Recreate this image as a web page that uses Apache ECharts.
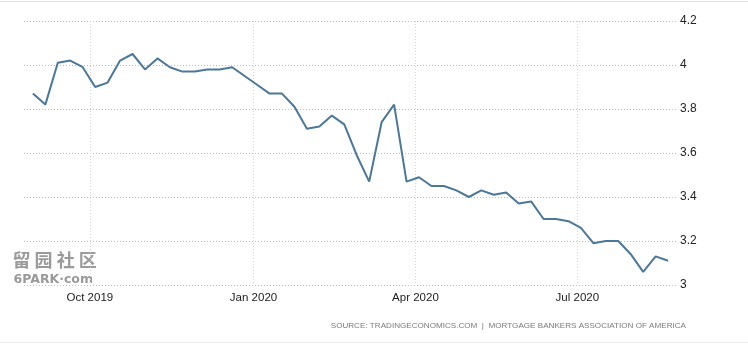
<!DOCTYPE html>
<html>
<head>
<meta charset="utf-8">
<script src="https://cdn.jsdelivr.net/npm/echarts@6/dist/echarts.min.js"></script>
<style>
html,body{margin:0;padding:0;background:#fff;}
#main{width:748px;height:351px;}
</style>
</head>
<body>
<div id="main"></div>
<script>
// weekly dates (MBA survey)
var dates = [
	'2019-08-30','2019-09-06','2019-09-13','2019-09-20','2019-09-27',
	'2019-10-04','2019-10-11','2019-10-18','2019-10-25',
	'2019-11-01','2019-11-08','2019-11-15','2019-11-22','2019-11-29',
	'2019-12-06','2019-12-13','2019-12-20','2019-12-27',
	'2020-01-03','2020-01-10','2020-01-17','2020-01-24','2020-01-31',
	'2020-02-07','2020-02-14','2020-02-21','2020-02-28',
	'2020-03-06','2020-03-13','2020-03-20','2020-03-27',
	'2020-04-03','2020-04-10','2020-04-17','2020-04-24',
	'2020-05-01','2020-05-08','2020-05-15','2020-05-22','2020-05-29',
	'2020-06-05','2020-06-12','2020-06-19','2020-06-26',
	'2020-07-03','2020-07-10','2020-07-17','2020-07-24','2020-07-31',
	'2020-08-07','2020-08-14','2020-08-21'
];
// 30 year mortgage rate (%)
var rates = [
	3.87,3.82,4.01,4.02,3.99,
	3.90,3.92,4.02,4.05,
	3.98,4.03,3.99,3.97,3.97,
	3.98,3.98,3.99,3.95,
	3.91,3.87,3.87,3.81,3.71,
	3.72,3.77,3.73,3.59,
	3.47,3.74,3.82,3.47,
	3.49,3.45,3.45,3.43,
	3.40,3.43,3.41,3.42,3.37,
	3.38,3.30,3.30,3.29,
	3.26,3.19,3.20,3.20,3.14,
	3.06,3.13,3.11
];
var xMin = '2019-08-25', xMax = '2020-08-26';
var yTicks = {min:3, max:4.2, step:0.2};
var months = ['Jan','Feb','Mar','Apr','May','Jun','Jul','Aug','Sep','Oct','Nov','Dec'];
var sourceText = 'SOURCE: TRADINGECONOMICS.COM  |  MORTGAGE BANKERS ASSOCIATION OF AMERICA';

var seriesData = [];
$each = function(arr, fn){ for(var i=0;i<arr.length;i++){ fn(i, arr[i]); } };
$each(dates, function(i, d){ seriesData.push([d, rates[i]]); });

var myChart = echarts.init(document.getElementById('main'));
var option = {
	animation:false,
	backgroundColor:'#fff',
	grid:{
		left:24,
		right:71,
		top:21,
		bottom:66
	},
	xAxis:{
		type:'time',
		min:xMin,
		max:xMax,
		splitNumber:4,
		axisLine:{show:false},
		axisTick:{show:false},
		axisLabel:{
			color:'#222',
			fontFamily:'Liberation Sans',
			fontSize:11.5,
			margin:7,
			showMinLabel:false,
			showMaxLabel:false,
			formatter:function(val){
				var d = new Date(val);
				return months[d.getMonth()] + ' ' + d.getFullYear();
			}
		},
		splitLine:{
			show:true,
			showMinLine:false,
			showMaxLine:false,
			lineStyle:{color:'#d4d4d4', type:[1,2], width:1}
		}
	},
	yAxis:{
		type:'value',
		position:'right',
		min:yTicks.min,
		max:yTicks.max,
		interval:yTicks.step,
		axisLine:{show:false},
		axisTick:{show:false},
		axisLabel:{
			color:'#222',
			fontFamily:'Liberation Sans',
			fontSize:12,
			margin:3,
			padding:[4,0,0,0]
		},
		splitLine:{
			lineStyle:{color:'#bdbdbd', type:[1,2], width:1}
		}
	},
	series:[
		{
			name:'Mortgage Rate',
			type:'line',
			data:seriesData,
			showSymbol:false,
			lineStyle:{color:'#4b789a', width:2},
			itemStyle:{color:'#4b789a'}
		}
	],
	graphic:[
		{type:'rect', shape:{x:0, y:1, width:748, height:1}, style:{fill:'#e2e2e2'}},
		{type:'rect', shape:{x:0, y:342, width:748, height:1}, style:{fill:'#ececec'}},
		{
			type:'text', right:62, top:322,
			style:{text:sourceText, fill:'#7a7a7a', font:'8.1px "Liberation Sans"'}
		},
		{
			type:'text', left:12, top:251,
			style:{text:'留 园 社 区', fill:'#9a9a9a', stroke:'#fff', lineWidth:1,
				font:'bold 18px "Noto Sans CJK SC"'}
		},
		{
			type:'text', left:13, top:273,
			style:{text:'6PARK·com', fill:'#9a9a9a', stroke:'#fff', lineWidth:1,
				font:'bold 12.5px "DejaVu Sans"'}
		}
	]
};
myChart.setOption(option);
</script>
</body>
</html>
